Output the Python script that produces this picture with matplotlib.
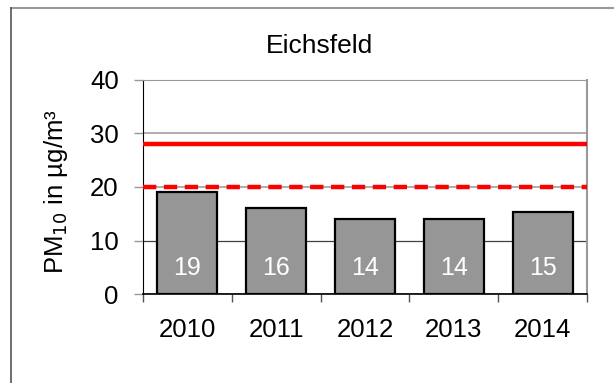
import matplotlib
matplotlib.use("Agg")
import matplotlib.pyplot as plt
from matplotlib.lines import Line2D

plt.rcParams['font.family'] = ['Liberation Sans', 'DejaVu Sans']

years = ['2010', '2011', '2012', '2013', '2014']
values = [19, 16, 14, 14, 15.4]
bar_labels = ['19', '16', '14', '14', '15']
limit_solid = 28
limit_dashed = 20
title = 'Eichsfeld'
yticks = [0, 10, 20, 30, 40]

W, H = 614, 383
fig = plt.figure(figsize=(W / 100, H / 100), dpi=100)

# figure frame
fig.add_artist(Line2D([11 / W, 1.01], [1 - 7.5 / H, 1 - 7.5 / H], transform=fig.transFigure,
                      color='#999999', lw=1.5))
fig.add_artist(Line2D([11 / W, 11 / W], [1 - 7.5 / H, -0.01], transform=fig.transFigure,
                      color='#555555', lw=1.2))

ax = fig.add_axes([143 / W, 1 - 294 / H, (587 - 143) / W, (294 - 80) / H])
x = list(range(len(years)))
ax.bar(x, values, width=0.675, color='#969696', edgecolor='black', linewidth=1.6, zorder=3)
for xi, lab in zip(x, bar_labels):
    ax.text(xi, 4.8, lab, color='white', ha='center', va='center', fontsize=18, zorder=4)

ax.axhline(limit_solid, color='#ff0000', lw=3.2, zorder=5)
ax.axhline(limit_dashed, color='#ff0000', lw=3.2, zorder=5, linestyle=(0, (3.0, 1.7)))

ax.set_xlim(-0.5, len(years) - 0.5)
ax.set_ylim(0, 40)
ax.set_yticks(yticks)
ax.tick_params(axis='y', length=6.5, width=1, color='#999999', labelsize=18.5, pad=11)
ax.yaxis.grid(True, color='#a0a0a0', lw=1.2, zorder=0)
gl = ax.get_ygridlines()
gl[1].set_color('#404040')
gl[1].set_linewidth(0.9)
ax.set_axisbelow(True)

ax.set_xticks(x)
ax.set_xticklabels(years)
ax.set_xticks([i - 0.5 for i in range(len(years) + 1)], minor=True)
ax.tick_params(axis='x', which='major', length=0, labelsize=18.5, pad=17)
ax.tick_params(axis='x', which='minor', length=6, width=1, color='#555555', direction='out')

ax.spines['left'].set_color('black')
ax.spines['bottom'].set_color('black')
ax.spines['bottom'].set_linewidth(1.2)
ax.spines['top'].set_color('#999999')
ax.spines['right'].set_color('#999999')
ax.spines['right'].set_linewidth(1.5)

ax.set_ylabel('PM$_{10}$ in µg/m³', fontsize=18.5)
ax.yaxis.set_label_coords(-0.165, 0.48)
fig.text(320 / W, 1 - 46 / H, title, ha='center', va='center', fontsize=19)

fig.savefig('out.png', dpi=100)
